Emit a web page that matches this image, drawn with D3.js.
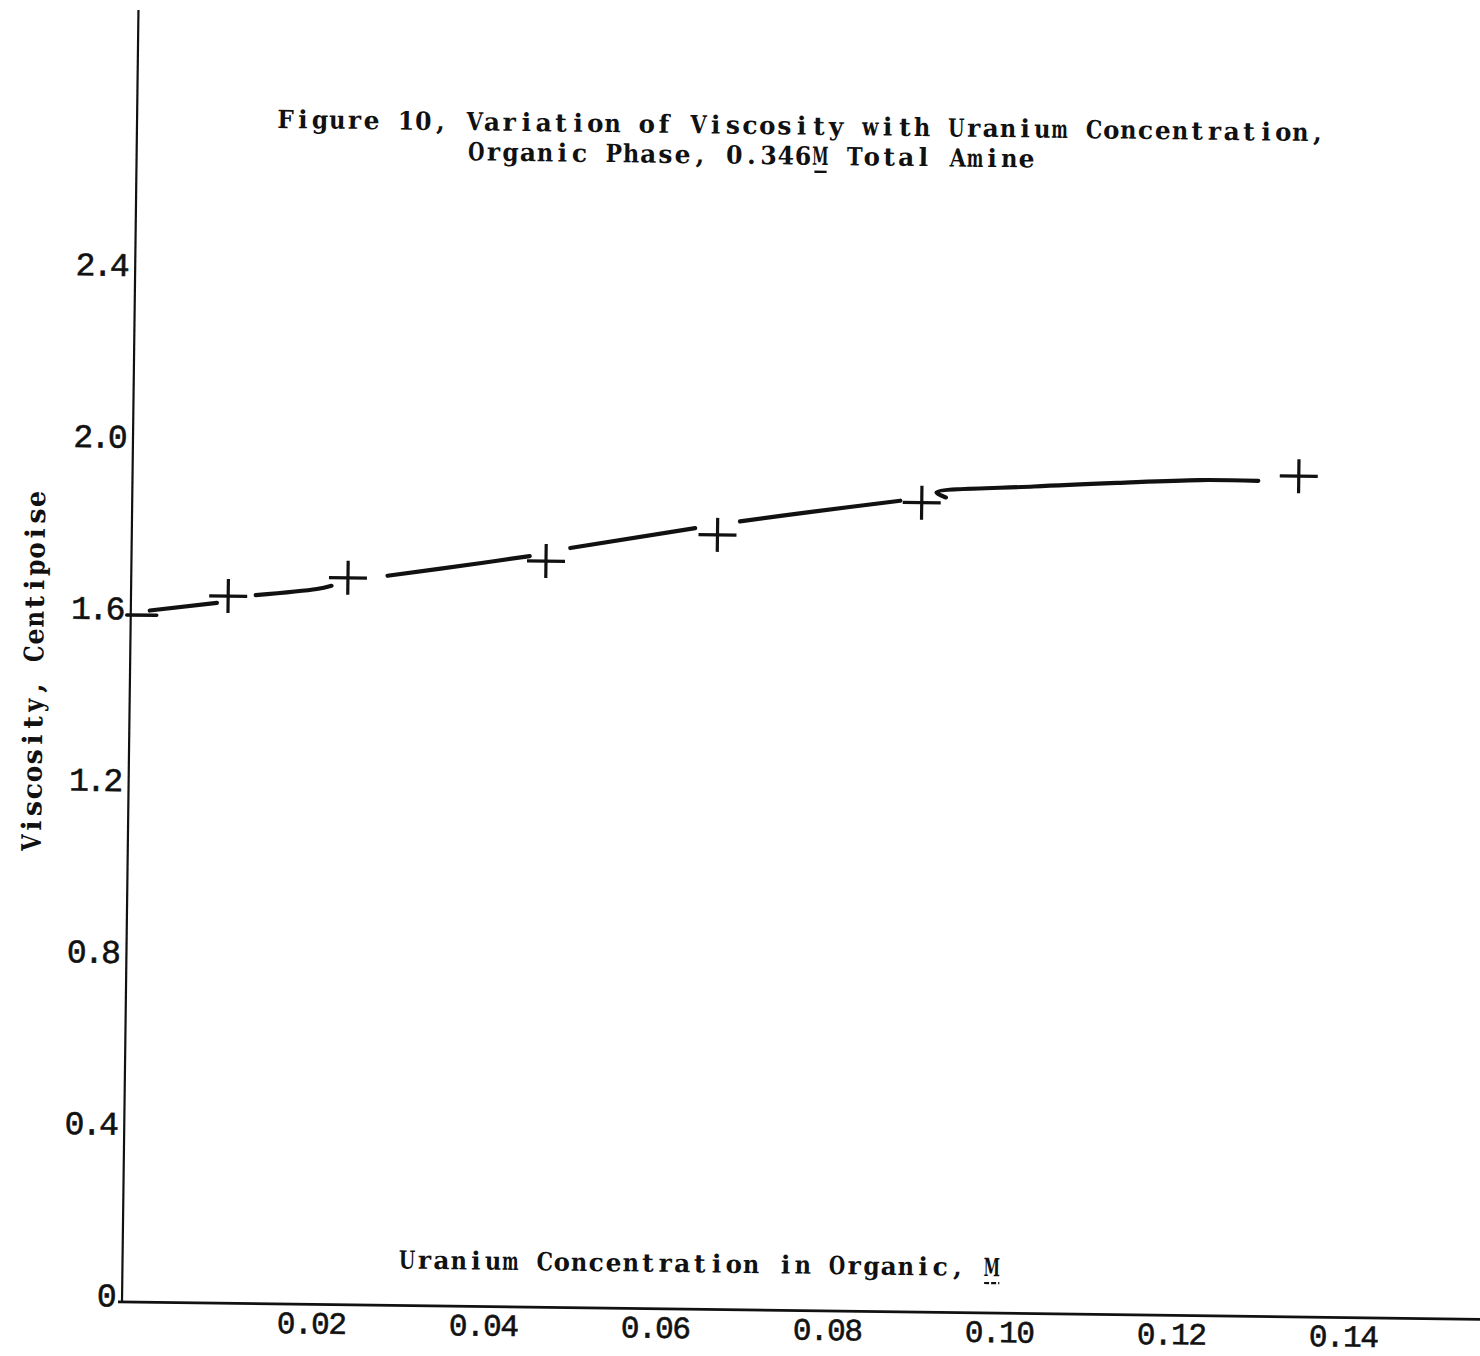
<!DOCTYPE html>
<html>
<head>
<meta charset="utf-8">
<script src="https://cdn.jsdelivr.net/npm/d3@7"></script>
<style>
  html, body { margin: 0; padding: 0; background: #fff; }
  svg { display: block; }
</style>
</head>
<body>
<svg id="chart" width="1480" height="1356"></svg>
<script>
// Measured points: uranium concentration in organic (M) vs viscosity (centipoise)
const concentration = [0.0113, 0.0252, 0.0482, 0.0681, 0.0918, 0.1356];
const viscosity     = [1.647, 1.693, 1.738, 1.804, 1.885, 1.958];

// Hand-drawn smooth curve, drawn in pieces that stop short of each plotted point
const curveSegment1 = [[0.0022, 1.611], [0.0100, 1.631]];
const curveSegment2 = [[0.0145, 1.650], [0.0216, 1.666], [0.0233, 1.674]];
const curveSegment3 = [[0.0298, 1.699], [0.0405, 1.731], [0.0463, 1.749]];
const curveSegment4 = [[0.0510, 1.769], [0.0655, 1.819]];
const curveSegment5 = [[0.0707, 1.836], [0.0792, 1.861], [0.0893, 1.889]];
const curveSegment6 = [[0.0946, 1.898], [0.0935, 1.909], [0.1048, 1.926], [0.1145, 1.937], [0.1241, 1.946], [0.1309, 1.946]];
const curveSegments = [curveSegment1, curveSegment2, curveSegment3, curveSegment4, curveSegment5, curveSegment6];

// Intercept of the curve on the viscosity axis
const interceptValue = 1.6;

// Axis ticks and their typed labels
const yTicks      = [0, 0.4, 0.8, 1.2, 1.6, 2.0, 2.4];
const yTickLabels = ["0", "0.4", "0.8", "1.2", "1.6", "2.0", "2.4"];
const xTicks      = [0.02, 0.04, 0.06, 0.08, 0.10, 0.12, 0.14];
const xTickLabels = ["0.02", "0.04", "0.06", "0.08", "0.10", "0.12", "0.14"];

const titleLine1 = "Figure 10, Variation of Viscosity with Uranium Concentration,";
const titleLine2 = "Organic Phase, 0.346M Total Amine";
const xTitle = "Uranium Concentration in Organic, M";
const yTitle = "Viscosity, Centipoise";

// ---- layout ----
const ORIGIN_X = 122, ORIGIN_Y = 1302;
const CHAR = 17.2;                       // typewriter pitch (px per character)
const MONO = "'Liberation Mono', 'DejaVu Sans Mono', monospace";
const SERIF = "'DejaVu Serif', 'Liberation Serif', serif";
const INK = "#111";

const x = d3.scaleLinear().domain([0, 0.14]).range([ORIGIN_X, ORIGIN_X + 0.14 * 8600]);
const y = d3.scaleLinear().domain([0, 2.4]).range([ORIGIN_Y, ORIGIN_Y - 2.4 * 429.4]);

const svg = d3.select("#chart");
svg.append("rect").attr("width", 1480).attr("height", 1356).attr("fill", "#fff");

// the sheet sits very slightly turned
const g = svg.append("g").attr("transform", `rotate(0.73, ${ORIGIN_X}, ${ORIGIN_Y})`);

// One line of typewritten text: a single <text>, each character in its own
// fixed-pitch cell; wide glyphs are squeezed so they stay inside the cell.
function typewriter(parent, str, x0, baseline, size, weight, squeeze, maxW) {
  const t = parent.append("text")
    .attr("font-family", SERIF)
    .attr("font-size", size)
    .attr("font-weight", weight)
    .attr("fill", INK)
    .attr("y", baseline)
    .text(str);
  const node = t.node();
  const widths = [];
  for (let i = 0; i < str.length; i++) widths.push(node.getSubStringLength(i, 1));
  t.text(null);
  str.split("").forEach((ch, i) => {
    const w = Math.min(widths[i] * squeeze, maxW);
    const cx = x0 + (i + 0.5) * CHAR;
    const span = t.append("tspan")
      .attr("x", (cx - w / 2).toFixed(2))
      .text(ch);
    if (ch !== " ") span.attr("textLength", w.toFixed(2)).attr("lengthAdjust", "spacingAndGlyphs");
  });
  return t;
}

// axis lines
g.append("line")
  .attr("x1", ORIGIN_X).attr("x2", ORIGIN_X)
  .attr("y1", ORIGIN_Y).attr("y2", 10)
  .attr("stroke", INK).attr("stroke-width", 2.2);
g.append("line")
  .attr("x1", ORIGIN_X - 4).attr("x2", 1500)
  .attr("y1", ORIGIN_Y).attr("y2", ORIGIN_Y)
  .attr("stroke", INK).attr("stroke-width", 2.8);

// y tick labels
const yAxis = g.append("g")
  .attr("transform", `translate(${ORIGIN_X},0)`)
  .call(d3.axisLeft(y).tickValues(yTicks).tickSize(0).tickPadding(10)
    .tickFormat(d => yTickLabels[yTicks.indexOf(d)]));
yAxis.select(".domain").remove();
yAxis.selectAll(".tick text")
  .attr("font-family", MONO).attr("font-size", 33)
  .attr("letter-spacing", -2.6)
  .attr("fill", INK).attr("stroke", INK).attr("stroke-width", 0.6)
  .attr("dy", null).attr("y", 4).attr("x", -8)
  .attr("text-anchor", "end");

// x tick labels (typed a little to the right of their nominal position)
const xAxis = g.append("g")
  .attr("transform", `translate(0,${ORIGIN_Y})`)
  .call(d3.axisBottom(x).tickValues(xTicks).tickSize(0)
    .tickFormat(d => xTickLabels[xTicks.indexOf(d)]));
xAxis.select(".domain").remove();
xAxis.selectAll(".tick text")
  .attr("font-family", MONO).attr("font-size", 31)
  .attr("letter-spacing", -1.4)
  .attr("fill", INK).attr("stroke", INK).attr("stroke-width", 0.6)
  .attr("dy", null).attr("y", 29).attr("x", 17)
  .attr("text-anchor", "middle");

// short mark where the curve meets the viscosity axis
g.append("line")
  .attr("x1", ORIGIN_X - 4).attr("x2", ORIGIN_X + 26)
  .attr("y1", y(interceptValue)).attr("y2", y(interceptValue))
  .attr("stroke", INK).attr("stroke-width", 3.5).attr("stroke-linecap", "round");

// curve
const line = d3.line()
  .x(d => x(d[0])).y(d => y(d[1]))
  .curve(d3.curveCatmullRom.alpha(0.5));
g.append("g").selectAll("path")
  .data(curveSegments)
  .join("path")
  .attr("d", line)
  .attr("fill", "none")
  .attr("stroke", INK)
  .attr("stroke-width", 4.2)
  .attr("stroke-linecap", "round")
  .attr("stroke-linejoin", "round");

// plotted points as plus signs
const pts = g.append("g").selectAll("g")
  .data(concentration.map((c, i) => [c, viscosity[i]]))
  .join("g")
  .attr("transform", d => `translate(${x(d[0])},${y(d[1])})`);
pts.append("line").attr("x1", -19).attr("x2", 19).attr("y1", 0).attr("y2", 0)
  .attr("stroke", INK).attr("stroke-width", 3.2);
pts.append("line").attr("x1", 0).attr("x2", 0).attr("y1", -17).attr("y2", 17)
  .attr("stroke", INK).attr("stroke-width", 3.2);

// title
const t1x = 262, t2x = 453;
typewriter(g, titleLine1, t1x, 126, 25, "bold", 1.0, 16.4);
typewriter(g, titleLine2, t2x, 156, 25, "bold", 1.0, 16.4);
const mIdx = titleLine2.indexOf("M");
g.append("line")
  .attr("x1", t2x + mIdx * CHAR + 3).attr("x2", t2x + (mIdx + 1) * CHAR - 2)
  .attr("y1", 163).attr("y2", 163)
  .attr("stroke", INK).attr("stroke-width", 2.4);

// x-axis title with underlined M (molarity)
const xtx = 398;
typewriter(g, xTitle, xtx, 1265, 25, "bold", 1.0, 16.4);
const xm = xTitle.lastIndexOf("M");
g.append("line")
  .attr("x1", xtx + xm * CHAR + 1).attr("x2", xtx + (xm + 1) * CHAR - 1)
  .attr("y1", 1272).attr("y2", 1272)
  .attr("stroke", INK).attr("stroke-width", 2.2)
  .attr("stroke-dasharray", "5,2");

// y-axis title
const yTitleGroup = g.append("g").attr("transform", "translate(35,672) rotate(-90)");
typewriter(yTitleGroup, yTitle, -yTitle.length * CHAR / 2, 0, 27, "bold", 1.0, 16.4);
</script>
</body>
</html>
